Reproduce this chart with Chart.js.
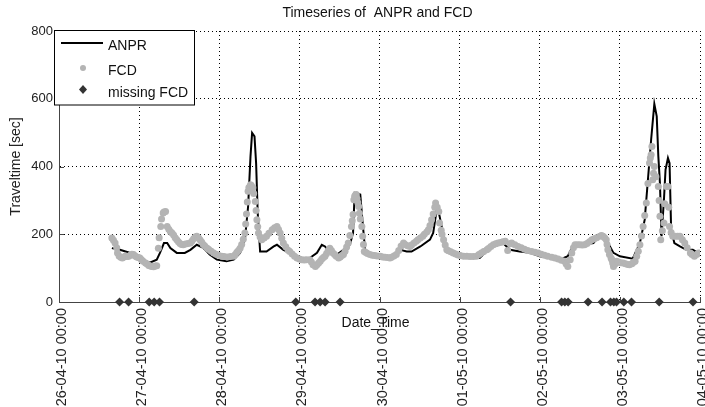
<!DOCTYPE html>
<html>
<head>
<meta charset="utf-8">
<script src="https://cdn.jsdelivr.net/npm/chart.js@4.4.1/dist/chart.umd.min.js"></script>
<style>
  html, body { margin: 0; padding: 0; background: #fff; }
  #wrap { width: 705px; height: 407px; }
</style>
</head>
<body>
<div id="wrap"><canvas id="tsChart" width="705" height="407"></canvas></div>
<script>
// x is days since 26-04-10 00:00, y is travel time in seconds
const dayLabels = [
    '26-04-10 00:00', '27-04-10 00:00', '28-04-10 00:00', '29-04-10 00:00', '30-04-10 00:00',
    '01-05-10 00:00', '02-05-10 00:00', '03-05-10 00:00', '04-05-10 00:00'
];

const anprDays = [
    0.66, 0.76, 0.87, 0.97, 1.06, 1.14, 1.22, 1.26, 1.31, 1.35, 1.39, 1.47, 1.57, 1.64, 1.72, 1.80, 1.88, 1.97,
    2.09, 2.18, 2.26, 2.32, 2.36, 2.39, 2.41, 2.44, 2.46, 2.48, 2.51, 2.59, 2.68, 2.72, 2.80, 2.93,
    3.03, 3.13, 3.22, 3.28, 3.32, 3.38, 3.47, 3.55, 3.63, 3.67, 3.69, 3.76, 3.79, 3.82, 3.92,
    4.05, 4.17, 4.26, 4.34, 4.40, 4.51, 4.63, 4.67, 4.72, 4.75, 4.80, 4.84, 4.96,
    5.09, 5.25, 5.38, 5.54, 5.63, 5.75, 5.88, 6.00, 6.13, 6.25, 6.35, 6.42, 6.54, 6.67, 6.75, 6.83, 6.92,
    7.00, 7.16, 7.25, 7.31, 7.35, 7.39, 7.43, 7.46, 7.48, 7.50, 7.52, 7.55, 7.57, 7.60, 7.62, 7.64, 7.68,
    7.75, 7.83, 7.91, 7.98
];
const anprTime = [
    159, 154, 146, 135, 120, 117, 125, 145, 174, 174, 159, 145, 145, 154, 169, 160, 140, 125,
    120, 125, 145, 184, 282, 430, 499, 489, 410, 263, 149, 149, 164, 169, 154, 140,
    130, 130, 145, 169, 164, 145, 140, 154, 169, 204, 322, 317, 233, 154, 140,
    130, 130, 154, 149, 149, 164, 184, 204, 282, 253, 194, 159, 145,
    130, 130, 159, 174, 154, 149, 145, 135, 130, 125, 135, 169, 169, 174, 199, 184, 145,
    135, 128, 174, 243, 361, 479, 585, 548, 430, 351, 194, 302, 391, 425, 410, 213, 174,
    164, 154, 154, 145
];

const fcdDays = [
    0.66, 0.68, 0.70, 0.72, 0.73, 0.75, 0.77, 0.79, 0.81, 0.83,
    0.85, 0.87, 0.89, 0.91, 0.93, 0.95, 0.97, 0.99, 1.01, 1.03,
    1.05, 1.08, 1.10, 1.12, 1.14, 1.16, 1.18, 1.20, 1.22, 1.24,
    1.25, 1.27, 1.28, 1.30, 1.31, 1.33, 1.35, 1.37, 1.39, 1.41,
    1.43, 1.45, 1.47, 1.49, 1.51, 1.53, 1.55, 1.58, 1.61, 1.64,
    1.66, 1.68, 1.70, 1.72, 1.74, 1.76, 1.78, 1.80, 1.82, 1.85,
    1.87, 1.90, 1.93, 1.96, 1.99, 2.03, 2.06, 2.10, 2.14, 2.18,
    2.20, 2.22, 2.24, 2.26, 2.28, 2.30, 2.32, 2.33, 2.34, 2.35,
    2.36, 2.37, 2.39, 2.40, 2.42, 2.43, 2.45, 2.46, 2.47, 2.48,
    2.49, 2.51, 2.53, 2.56, 2.59, 2.62, 2.66, 2.69, 2.72, 2.74,
    2.76, 2.78, 2.80, 2.83, 2.86, 2.88, 2.91, 2.94, 2.97, 3.00,
    3.03, 3.06, 3.09, 3.13, 3.15, 3.17, 3.20, 3.22, 3.24, 3.26,
    3.28, 3.30, 3.32, 3.34, 3.36, 3.38, 3.40, 3.42, 3.44, 3.46,
    3.49, 3.51, 3.53, 3.55, 3.57, 3.59, 3.61, 3.63, 3.65, 3.66,
    3.67, 3.68, 3.69, 3.70, 3.71, 3.72, 3.73, 3.74, 3.75, 3.76,
    3.78, 3.79, 3.80, 3.81, 3.83, 3.85, 3.88, 3.91, 3.94, 3.97,
    4.01, 4.04, 4.07, 4.10, 4.13, 4.15, 4.18, 4.21, 4.24, 4.27,
    4.30, 4.32, 4.35, 4.38, 4.40, 4.43, 4.46, 4.48, 4.51, 4.54,
    4.56, 4.59, 4.61, 4.63, 4.65, 4.67, 4.69, 4.70, 4.72, 4.74,
    4.75, 4.77, 4.78, 4.80, 4.82, 4.84, 4.86, 4.89, 4.92, 4.95,
    4.98, 5.01, 5.05, 5.09, 5.13, 5.17, 5.21, 5.24, 5.27, 5.30,
    5.34, 5.36, 5.39, 5.42, 5.45, 5.48, 5.51, 5.54, 5.57, 5.60,
    5.63, 5.65, 5.69, 5.73, 5.77, 5.81, 5.85, 5.90, 5.94, 5.98,
    6.02, 6.06, 6.10, 6.15, 6.19, 6.23, 6.27, 6.31, 6.33, 6.35,
    6.38, 6.40, 6.42, 6.44, 6.47, 6.50, 6.53, 6.56, 6.59, 6.62,
    6.65, 6.68, 6.71, 6.75, 6.77, 6.79, 6.81, 6.83, 6.84, 6.85,
    6.87, 6.89, 6.90, 6.91, 6.92, 6.94, 6.96, 6.98, 7.01, 7.04,
    7.07, 7.10, 7.12, 7.15, 7.17, 7.19, 7.21, 7.23, 7.25, 7.27,
    7.29, 7.31, 7.33, 7.35, 7.37, 7.38, 7.39, 7.40, 7.41, 7.42,
    7.43, 7.45, 7.48, 7.49, 7.50, 7.51, 7.53, 7.55, 7.56, 7.58,
    7.60, 7.61, 7.62, 7.64, 7.66, 7.69, 7.72, 7.75, 7.78, 7.81,
    7.84, 7.88, 7.90, 7.93, 7.96, 7.98
];
const fcdTime = [
    189, 182, 174, 160, 145, 136, 132, 130, 133, 136,
    134, 135, 138, 141, 140, 136, 133, 131, 130, 125,
    120, 115, 112, 108, 106, 105, 104, 106, 107, 159,
    190, 223, 245, 263, 266, 267, 223, 215, 208, 204,
    198, 190, 184, 178, 173, 170, 169, 171, 173, 174,
    180, 187, 192, 194, 190, 184, 177, 170, 165, 159,
    155, 150, 145, 141, 138, 135, 134, 133, 134, 135,
    140, 147, 152, 159, 170, 185, 204, 230, 260, 295,
    327, 338, 346, 344, 337, 320, 297, 270, 243, 222,
    204, 192, 184, 189, 194, 203, 213, 219, 223, 214,
    204, 188, 174, 163, 153, 149, 142, 135, 130, 127,
    125, 124, 125, 125, 118, 110, 105, 110, 115, 120,
    127, 131, 135, 143, 152, 159, 152, 145, 140, 135,
    130, 133, 137, 140, 150, 162, 174, 196, 223, 240,
    258, 302, 312, 316, 317, 305, 293, 282, 262, 245,
    223, 194, 170, 149, 146, 143, 140, 138, 137, 136,
    135, 133, 132, 131, 130, 132, 136, 140, 152, 165,
    174, 170, 166, 164, 168, 174, 179, 184, 189, 194,
    200, 207, 213, 226, 243, 260, 280, 292, 280, 267,
    233, 212, 200, 184, 168, 154, 151, 148, 145, 142,
    139, 137, 135, 135, 134, 134, 135, 140, 145, 149,
    154, 158, 164, 169, 172, 174, 176, 178, 179, 152,
    172, 174, 169, 164, 160, 156, 152, 149, 147, 145,
    141, 138, 135, 132, 130, 127, 123, 120, 112, 105,
    125, 145, 160, 169, 169, 169, 168, 169, 173, 178,
    184, 187, 190, 194, 196, 194, 190, 184, 170, 154,
    140, 130, 125, 115, 105, 112, 120, 118, 116, 115,
    113, 111, 110, 113, 117, 120, 135, 150, 169, 195,
    223, 255, 292, 350, 410, 425, 435, 459, 361, 380,
    400, 370, 341, 300, 253, 184, 210, 233, 290, 341,
    341, 280, 223, 205, 194, 194, 194, 194, 184, 174,
    160, 145, 140, 135, 140, 145
];

// moments where FCD was missing, drawn on the zero line
const missingDays = [
    0.756, 0.868, 1.126, 1.188, 1.254, 1.687, 2.955, 3.196, 3.259, 3.321, 3.508,
    5.636, 6.272, 6.313, 6.354, 6.603, 6.778, 6.883, 6.924, 6.958, 7.049, 7.145, 7.491, 7.913
];

const FONT = 'Liberation Sans, Arial, Helvetica, sans-serif';
const GREY = '#b4b4b4';
const DARK = '#333333';

// title, x label, legend box and inside tick marks in the matlab look
const matlabExtras = {
    id: 'matlabExtras',
    afterDraw(chart) {
        const { ctx, chartArea: a, scales: { x, y } } = chart;
        ctx.save();

        // inside tick marks
        ctx.strokeStyle = '#444';
        ctx.lineWidth = 1;
        ctx.beginPath();
        for (let d = 0; d < dayLabels.length; d++) {
            const px = Math.round(x.getPixelForValue(d)) + 0.5;
            ctx.moveTo(px, a.bottom);
            ctx.lineTo(px, a.bottom - 5);
        }
        for (let v = 0; v <= 800; v += 200) {
            const py = Math.round(y.getPixelForValue(v)) + 0.5;
            ctx.moveTo(a.left, py);
            ctx.lineTo(a.left + 5, py);
        }
        ctx.stroke();

        ctx.fillStyle = '#111';
        ctx.font = '14px ' + FONT;
        ctx.textAlign = 'center';
        ctx.textBaseline = 'middle';
        ctx.fillText('Timeseries of  ANPR and FCD', (a.left + a.right) / 2 - 2, 13);
        ctx.fillText('Date_Time', (a.left + a.right) / 2 - 4, 323);

        // legend
        const lx = 54, ly = 30.5, lw = 140, lh = 74.5;
        ctx.fillStyle = '#fff';
        ctx.fillRect(lx, ly, lw, lh);
        ctx.strokeStyle = '#000';
        ctx.lineWidth = 1;
        ctx.strokeRect(lx + 0.5, ly, lw, lh);

        ctx.lineWidth = 2;
        ctx.beginPath();
        ctx.moveTo(61, 43);
        ctx.lineTo(103, 43);
        ctx.stroke();

        ctx.fillStyle = GREY;
        ctx.beginPath();
        ctx.arc(83, 68, 3, 0, Math.PI * 2);
        ctx.fill();

        ctx.fillStyle = DARK;
        ctx.beginPath();
        ctx.moveTo(83, 85);
        ctx.lineTo(87, 89.5);
        ctx.lineTo(83, 94);
        ctx.lineTo(79, 89.5);
        ctx.closePath();
        ctx.fill();

        ctx.fillStyle = '#111';
        ctx.textAlign = 'left';
        ctx.fillText('ANPR', 108, 46.5);
        ctx.fillText('FCD', 108, 71);
        ctx.fillText('missing FCD', 108, 93.5);

        ctx.restore();
    }
};

const ctx = document.getElementById('tsChart').getContext('2d');

const chart = new Chart(ctx, {
    type: 'scatter',
    data: {
        datasets: [
            {
                label: 'ANPR',
                data: anprDays.map((d, i) => ({ x: d, y: anprTime[i] })),
                showLine: true,
                borderColor: '#000',
                borderWidth: 2,
                pointRadius: 0,
                tension: 0,
                order: 3
            },
            {
                label: 'FCD',
                data: fcdDays.map((d, i) => ({ x: d, y: fcdTime[i] })),
                backgroundColor: GREY,
                borderColor: GREY,
                borderWidth: 0,
                pointRadius: 3.5,
                order: 2
            },
            {
                label: 'missing FCD',
                data: missingDays.map(d => ({ x: d, y: 0 })),
                pointStyle: 'rectRot',
                backgroundColor: DARK,
                borderColor: DARK,
                borderWidth: 0,
                pointRadius: 4.5,
                clip: false,
                order: 1
            }
        ]
    },
    options: {
        responsive: false,
        animation: false,
        layout: { padding: { top: 31, right: 5, left: 0, bottom: 0 } },
        plugins: {
            legend: { display: false },
            tooltip: { enabled: false },
            title: { display: false }
        },
        scales: {
            x: {
                type: 'linear',
                min: 0,
                max: 8,
                ticks: {
                    stepSize: 1,
                    autoSkip: false,
                    minRotation: 90,
                    maxRotation: 90,
                    padding: 6,
                    labelOffset: 3,
                    color: '#222',
                    font: { family: FONT, size: 14.5 },
                    callback: v => dayLabels[v]
                },
                grid: { color: '#000', lineWidth: 1, drawTicks: false },
                border: { color: '#444', width: 1, dash: [1, 3] },
                afterFit: s => {
                    s.height = 105;
                    s.paddingLeft = 0;
                    s.paddingRight = 0;
                }
            },
            y: {
                min: 0,
                max: 800,
                ticks: {
                    stepSize: 200,
                    padding: 6,
                    color: '#222',
                    font: { family: FONT, size: 13 }
                },
                grid: { color: '#000', lineWidth: 1, drawTicks: false },
                border: { color: '#444', width: 1, dash: [1, 3] },
                title: {
                    display: true,
                    text: 'Traveltime [sec]',
                    color: '#222',
                    font: { family: FONT, size: 14 },
                    padding: { top: 8, bottom: 0 }
                },
                afterFit: s => {
                    s.width = 59;
                }
            }
        }
    },
    plugins: [matlabExtras]
});
</script>
</body>
</html>
